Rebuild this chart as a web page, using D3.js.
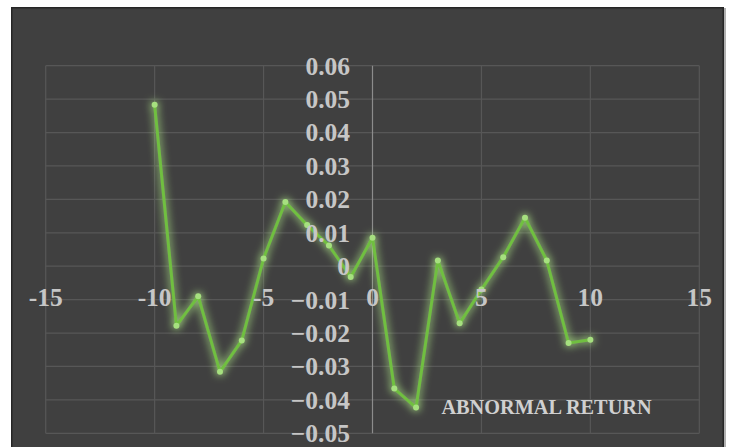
<!DOCTYPE html>
<html><head><meta charset="utf-8">
<script src="https://cdn.jsdelivr.net/npm/d3@7"></script>
<style>html,body{margin:0;padding:0;background:#fff;overflow:hidden}</style>
</head><body><svg id="c" width="730" height="447"></svg>
<script>
const days = [-10,-9,-8,-7,-6,-5,-4,-3,-2,-1,0,1,2,3,4,5,6,7,8,9,10];
const abnormalReturn = [0.0483,-0.0178,-0.009,-0.0316,-0.0222,0.0023,0.0192,0.0123,0.0062,-0.0032,0.0085,-0.0366,-0.0423,0.0017,-0.0171,-0.007,0.0027,0.0145,0.0017,-0.023,-0.022];
const xTicks = [-15,-10,-5,0,5,10,15];
const yTicks = [-0.05,-0.04,-0.03,-0.02,-0.01,0,0.01,0.02,0.03,0.04,0.05,0.06];
const titleText = "ABNORMAL RETURN";

const svg = d3.select("#c");
const defs = svg.append("defs");
const f = defs.append("filter").attr("id","glow").attr("x","-20%").attr("y","-20%").attr("width","140%").attr("height","140%");
f.append("feGaussianBlur").attr("in","SourceGraphic").attr("stdDeviation",4).attr("result","b");
f.append("feColorMatrix").attr("in","b").attr("type","matrix")
 .attr("values","0 0 0 0 0.45  0 0 0 0 0.85  0 0 0 0 0.25  0 0 0 1.3 0").attr("result","g");
const m = f.append("feMerge");
m.append("feMergeNode").attr("in","g");
m.append("feMergeNode").attr("in","SourceGraphic");

// chart frame
svg.append("rect").attr("x",723).attr("y",8).attr("width",3).attr("height",447).attr("fill","#b0b0b0");
svg.append("rect").attr("x",11).attr("y",7).attr("width",713).attr("height",445).attr("fill","#262626");
svg.append("rect").attr("x",12.5).attr("y",8.5).attr("width",710).attr("height",445).attr("fill","#404040");

const x = d3.scaleLinear().domain([-15,15]).range([45.7,699.3]);
const y = d3.scaleLinear().domain([-0.05,0.06]).range([433.3,65.7]);

// grid
const g = svg.append("g");
g.selectAll(".hg").data(yTicks).join("line")
 .attr("x1",x(-15)).attr("x2",x(15)).attr("y1",d=>y(d)).attr("y2",d=>y(d))
 .attr("stroke","#575757").attr("stroke-width",1.2);
g.selectAll(".vg").data(xTicks.filter(d=>d!==0)).join("line")
 .attr("y1",y(0.06)).attr("y2",y(-0.05)).attr("x1",d=>x(d)).attr("x2",d=>x(d))
 .attr("stroke","#575757").attr("stroke-width",1.2);
// y axis line
g.append("line").attr("x1",x(0)).attr("x2",x(0)).attr("y1",y(0.06)).attr("y2",y(-0.05))
 .attr("stroke","#8c8c8c").attr("stroke-width",1.2);

// series
const line = d3.line().x((d,i)=>x(days[i])).y(d=>y(d));
const sg = svg.append("g").attr("filter","url(#glow)");
sg.append("path").datum(abnormalReturn).attr("d",line).attr("fill","none")
 .attr("stroke","#6fbf3f").attr("stroke-width",3).attr("stroke-linejoin","round");
sg.selectAll("circle").data(abnormalReturn).join("circle")
 .attr("cx",(d,i)=>x(days[i])).attr("cy",d=>y(d)).attr("r",3)
 .attr("fill","#a6e07f");

// y labels
const fontFam = "'Liberation Serif','Times New Roman',serif";
svg.append("g").selectAll("text").data(yTicks).join("text")
 .attr("x",350).attr("y",d=>y(d)).attr("dy","0.35em").attr("text-anchor","end")
 .attr("font-family",fontFam).attr("font-weight","bold").attr("font-size",25.5)
 .attr("fill","#c6c6c6")
 .text(d=>d===0?"0":d3.format(".2f")(d));

// x labels
svg.append("g").selectAll("text").data(xTicks).join("text")
 .attr("x",d=>x(d)).attr("y",297).attr("dy","0.35em").attr("text-anchor","middle")
 .attr("font-family",fontFam).attr("font-weight","bold").attr("font-size",25.5)
 .attr("fill","#c6c6c6")
 .text(d=>d);

// title
svg.append("text").attr("x",546.5).attr("y",407).attr("dy","0.35em").attr("text-anchor","middle")
 .attr("font-family",fontFam).attr("font-weight","bold").attr("font-size",20.3)
 .attr("fill","#d0d0d0").text(titleText);
</script></body></html>
